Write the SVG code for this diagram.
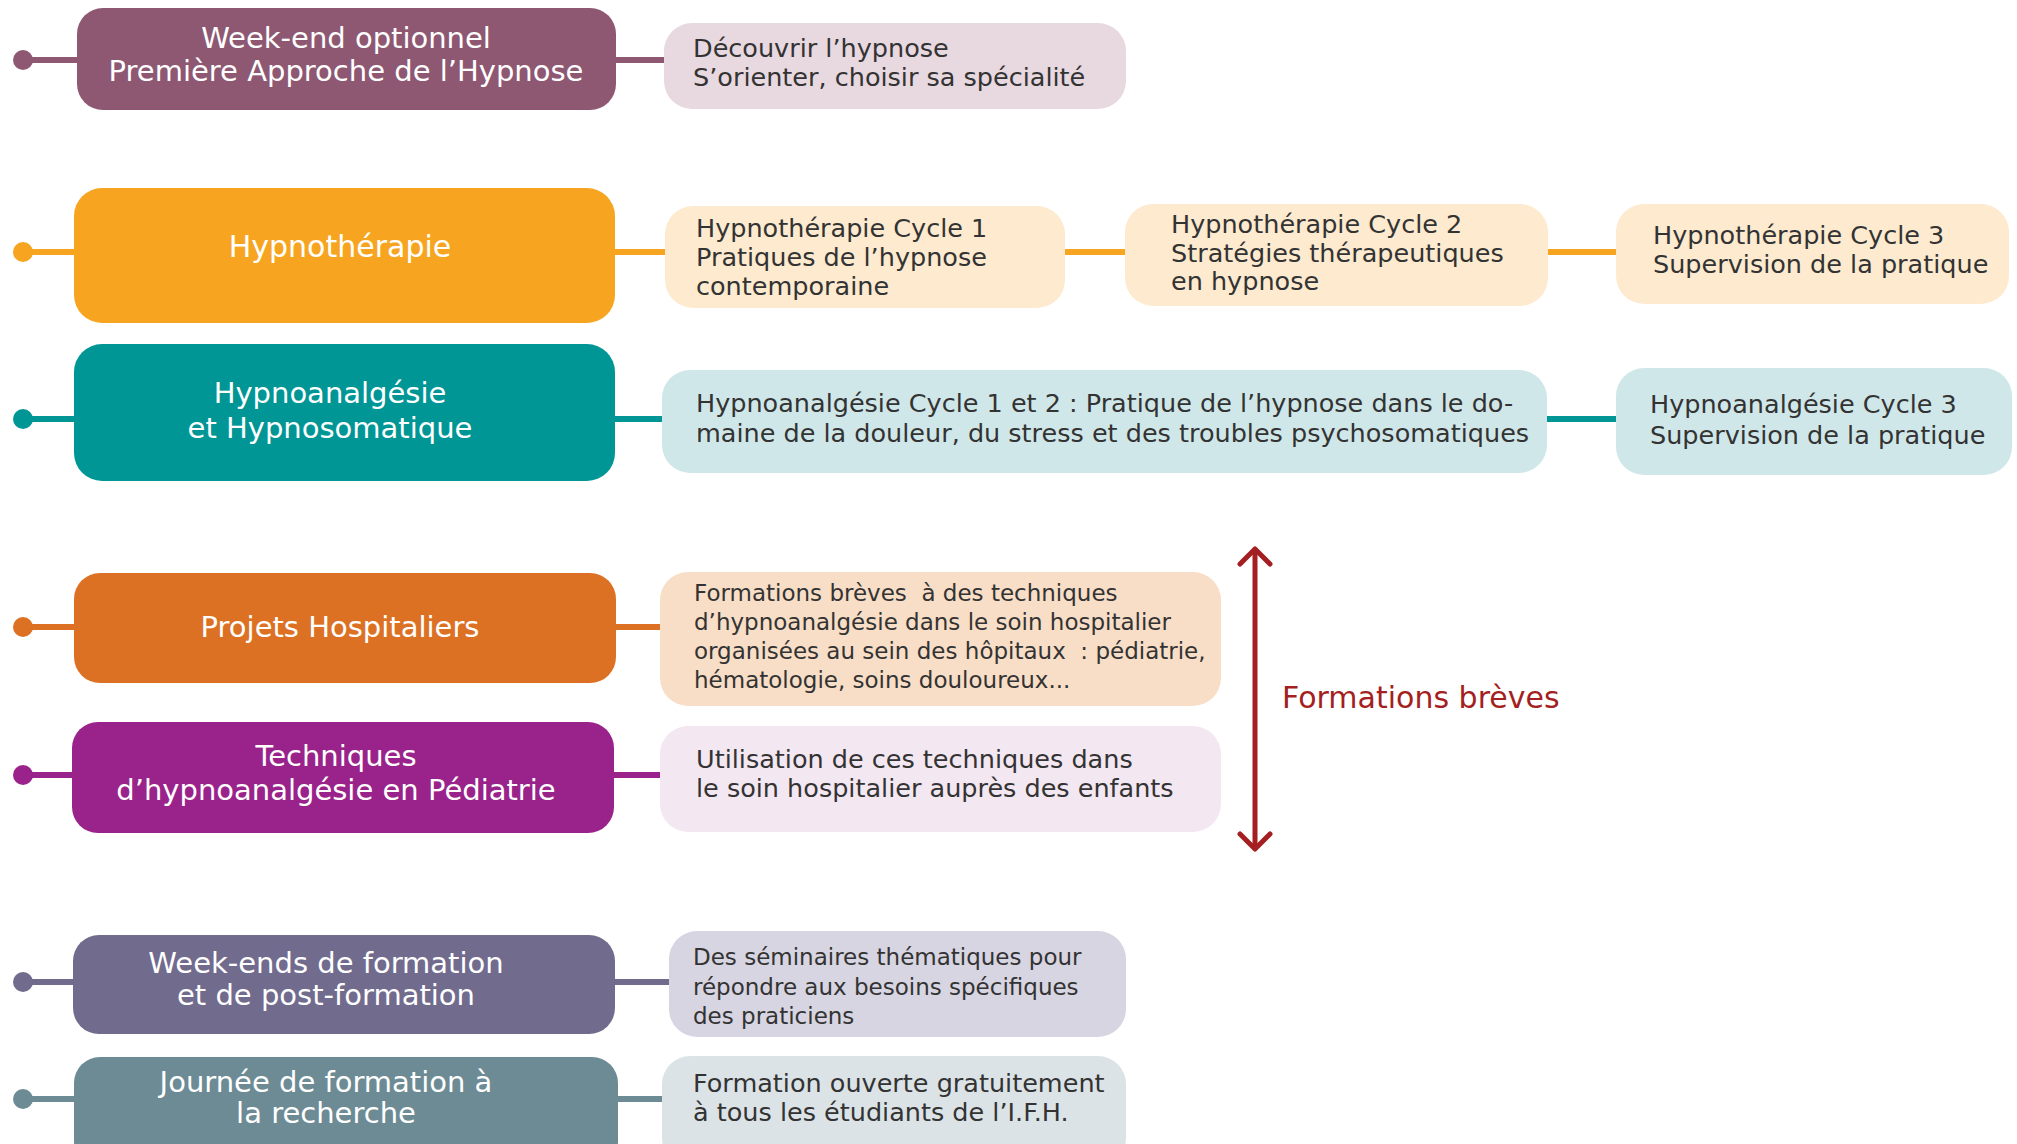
<svg xmlns="http://www.w3.org/2000/svg" width="2017" height="1144" viewBox="0 0 2017 1144">
<style>
.main{font-family:"DejaVu Sans",sans-serif;font-size:29px;fill:#ffffff;text-anchor:middle}
.big{font-size:30px}
.sub{font-family:"DejaVu Sans",sans-serif;font-size:25.5px;fill:#333333}
.sm{font-size:23px}
.lbl{font-family:"DejaVu Sans",sans-serif;font-size:30px;fill:#A31F22}
.c{stroke-width:6;fill:none}
</style>
<rect width="2017" height="1144" fill="#ffffff"/>
<g id="connectors">
  <g stroke="#8E5872" class="c"><line x1="23" y1="60" x2="80" y2="60"/><line x1="612" y1="60" x2="668" y2="60"/></g>
  <circle cx="23" cy="60" r="10" fill="#8E5872"/>
  <g stroke="#F7A520" class="c"><line x1="23" y1="252" x2="78" y2="252"/><line x1="611" y1="252" x2="668" y2="252"/><line x1="1062" y1="252" x2="1128" y2="252"/><line x1="1545" y1="252" x2="1619" y2="252"/></g>
  <circle cx="23" cy="252" r="10" fill="#F7A520"/>
  <g stroke="#009696" class="c"><line x1="23" y1="419" x2="78" y2="419"/><line x1="612" y1="419" x2="665" y2="419"/><line x1="1544" y1="419" x2="1619" y2="419"/></g>
  <circle cx="23" cy="419" r="10" fill="#009696"/>
  <g stroke="#DC7124" class="c"><line x1="23" y1="627" x2="78" y2="627"/><line x1="613" y1="627" x2="663" y2="627"/></g>
  <circle cx="23" cy="627" r="10" fill="#DC7124"/>
  <g stroke="#9A238B" class="c"><line x1="23" y1="775" x2="76" y2="775"/><line x1="611" y1="775" x2="663" y2="775"/></g>
  <circle cx="23" cy="775" r="10" fill="#9A238B"/>
  <g stroke="#716B8E" class="c"><line x1="23" y1="982" x2="76" y2="982"/><line x1="611" y1="982" x2="672" y2="982"/></g>
  <circle cx="23" cy="982" r="10" fill="#716B8E"/>
  <g stroke="#6D8B95" class="c"><line x1="23" y1="1099" x2="77" y2="1099"/><line x1="614" y1="1099" x2="665" y2="1099"/></g>
  <circle cx="23" cy="1099" r="10" fill="#6D8B95"/>
</g>
<g id="week-end-optionnel">
  <rect x="77" y="8" width="539" height="102" rx="26" fill="#8E5872"/>
  <text class="main" x="346" y="48">Week-end optionnel</text>
  <text class="main" x="346" y="81">Première Approche de l’Hypnose</text>
</g>
<g id="decouvrir">
  <rect x="664" y="23" width="462" height="86" rx="28" fill="#E8D8E0"/>
  <text class="sub" x="693" y="57">Découvrir l’hypnose</text>
  <text class="sub" x="693" y="86">S’orienter, choisir sa spécialité</text>
</g>
<g id="hypnotherapie">
  <rect x="74" y="188" width="541" height="135" rx="28" fill="#F7A520"/>
  <text class="main big" x="340" y="257">Hypnothérapie</text>
</g>
<g id="hypnotherapie-cycle1">
  <rect x="665" y="206" width="400" height="102" rx="28" fill="#FDEACF"/>
  <text class="sub" x="696" y="237">Hypnothérapie Cycle 1</text>
  <text class="sub" x="696" y="266">Pratiques de l’hypnose</text>
  <text class="sub" x="696" y="295">contemporaine</text>
</g>
<g id="hypnotherapie-cycle2">
  <rect x="1125" y="204" width="423" height="102" rx="28" fill="#FDEACF"/>
  <text class="sub" x="1171" y="233">Hypnothérapie Cycle 2</text>
  <text class="sub" x="1171" y="262">Stratégies thérapeutiques</text>
  <text class="sub" x="1171" y="290">en hypnose</text>
</g>
<g id="hypnotherapie-cycle3">
  <rect x="1616" y="204" width="393" height="100" rx="28" fill="#FDEACF"/>
  <text class="sub" x="1653" y="244">Hypnothérapie Cycle 3</text>
  <text class="sub" x="1653" y="273">Supervision de la pratique</text>
</g>
<g id="hypnoanalgesie">
  <rect x="74" y="344" width="541" height="137" rx="28" fill="#009696"/>
  <text class="main" x="330" y="403">Hypnoanalgésie</text>
  <text class="main" x="330" y="438">et Hypnosomatique</text>
</g>
<g id="hypnoanalgesie-cycle12">
  <rect x="662" y="370" width="885" height="103" rx="28" fill="#D0E7E9"/>
  <text class="sub" x="696" y="412">Hypnoanalgésie Cycle 1 et 2 : Pratique de l’hypnose dans le do-</text>
  <text class="sub" x="696" y="442">maine de la douleur, du stress et des troubles psychosomatiques</text>
</g>
<g id="hypnoanalgesie-cycle3">
  <rect x="1616" y="368" width="396" height="107" rx="28" fill="#D0E7E9"/>
  <text class="sub" x="1650" y="413">Hypnoanalgésie Cycle 3</text>
  <text class="sub" x="1650" y="444">Supervision de la pratique</text>
</g>
<g id="projets-hospitaliers">
  <rect x="74" y="573" width="542" height="110" rx="26" fill="#DC7124"/>
  <text class="main" x="340" y="637">Projets Hospitaliers</text>
</g>
<g id="formations-breves-techniques">
  <rect x="660" y="572" width="561" height="134" rx="28" fill="#F8DEC6"/>
  <text class="sub sm" x="694" y="601" xml:space="preserve">Formations brèves  à des techniques</text>
  <text class="sub sm" x="694" y="630">d’hypnoanalgésie dans le soin hospitalier</text>
  <text class="sub sm" x="694" y="659" xml:space="preserve">organisées au sein des hôpitaux  : pédiatrie,</text>
  <text class="sub sm" x="694" y="688">hématologie, soins douloureux...</text>
</g>
<g id="techniques-pediatrie">
  <rect x="72" y="722" width="542" height="111" rx="26" fill="#9A238B"/>
  <text class="main" x="336" y="766">Techniques</text>
  <text class="main" x="336" y="800">d’hypnoanalgésie en Pédiatrie</text>
</g>
<g id="utilisation">
  <rect x="660" y="726" width="561" height="106" rx="28" fill="#F3E7F2"/>
  <text class="sub" x="696" y="768">Utilisation de ces techniques dans</text>
  <text class="sub" x="696" y="797">le soin hospitalier auprès des enfants</text>
</g>
<g id="formations-breves">
  <g stroke="#A31F22" stroke-width="5" fill="none" stroke-linecap="round" stroke-linejoin="round">
    <line x1="1255" y1="551" x2="1255" y2="847"/>
    <polyline points="1240,564 1255,549 1270,564"/>
    <polyline points="1240,834 1255,849 1270,834"/>
  </g>
  <text class="lbl" x="1282" y="708">Formations brèves</text>
</g>
<g id="week-ends">
  <rect x="73" y="935" width="542" height="99" rx="26" fill="#716B8E"/>
  <text class="main" x="326" y="973">Week-ends de formation</text>
  <text class="main" x="326" y="1005">et de post-formation</text>
</g>
<g id="seminaires">
  <rect x="669" y="931" width="457" height="106" rx="28" fill="#D7D5E1"/>
  <text class="sub sm" x="693" y="965">Des séminaires thématiques pour</text>
  <text class="sub sm" x="693" y="995">répondre aux besoins spécifiques</text>
  <text class="sub sm" x="693" y="1024">des praticiens</text>
</g>
<g id="journee-recherche">
  <rect x="74" y="1057" width="544" height="110" rx="26" fill="#6D8B95"/>
  <text class="main" x="326" y="1092">Journée de formation à</text>
  <text class="main" x="326" y="1123">la recherche</text>
</g>
<g id="formation-ouverte">
  <rect x="662" y="1056" width="464" height="110" rx="28" fill="#DCE3E7"/>
  <text class="sub" x="693" y="1092">Formation ouverte gratuitement</text>
  <text class="sub" x="693" y="1121">à tous les étudiants de l’I.F.H.</text>
</g>
</svg>
